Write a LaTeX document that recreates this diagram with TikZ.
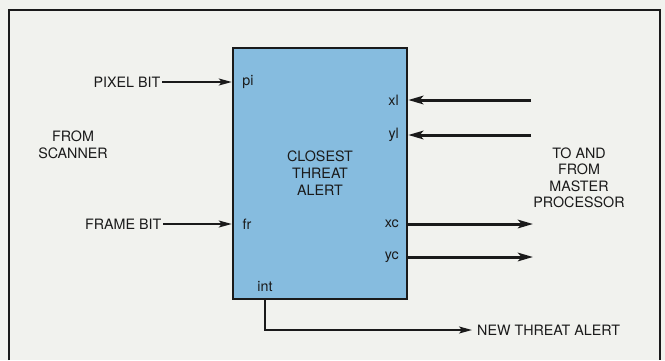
\documentclass[tikz,border=0pt]{standalone}
\usepackage{fontspec}
\setmainfont{TeX Gyre Heros}
\usetikzlibrary{arrows.meta,positioning}
\definecolor{paper}{HTML}{F1F2EE}
\definecolor{chip}{HTML}{86BCDF}
\definecolor{ink}{HTML}{1A1A1A}

\begin{document}
\begin{tikzpicture}[x=1pt,y=-1pt,font=\fontsize{14.3}{16.5}\selectfont,
  pin/.style={inner sep=0pt,text=ink},
  lbl/.style={inner sep=1.5pt,text=ink},
  sig/.style={ink,line width=1.8pt,-{Stealth[length=13pt,width=7pt,inset=3pt]}},
  bus/.style={ink,line width=3pt,-{Stealth[length=15pt,width=8.5pt,inset=3.5pt]}}]
  \useasboundingbox[fill=paper] (0,0) rectangle (665,360);

  % Frame (open at the bottom)
  \draw[ink,line width=1.5pt] (9,360) -- (9,10) -- (660,10) -- (660,360);

  % Closest threat alert chip
  \node[draw=ink,fill=chip,line width=2.5pt,minimum width=174pt,minimum height=251pt,inner sep=0pt] (cta) at (320,173.5) {};
  \node[lbl,align=center,font=\fontsize{14.3}{17}\selectfont] (title) at (320,173) {CLOSEST\\THREAT\\ALERT};

  % Pins
  \node[pin] (pi) at (248,82) {pi};
  \node[pin] (fr) at (247,224) {fr};
  \node[pin,anchor=east] (xl) at (399,100) {xl};
  \node[pin,anchor=east] (yl) at (399,135) {yl};
  \node[pin,anchor=east] (xc) at (399,224) {xc};
  \node[pin,anchor=east] (yc) at (399,257) {yc};
  \node[pin] (int) at (265,286) {int};

  % From scanner
  \node[lbl,anchor=east] (pixel) at (162,82) {PIXEL BIT};
  \node[lbl,anchor=east] (frame) at (163,224) {FRAME BIT};
  \node[lbl,align=center] (scanner) at (73,145) {FROM\\SCANNER};
  \draw[sig] (pixel) -- (pixel -| cta.west);
  \draw[sig] (frame) -- (frame -| cta.west);

  % To and from master processor
  \node[lbl,align=center] (master) at (579,178) {TO AND\\FROM\\MASTER\\PROCESSOR};
  \coordinate (xlsrc) at (531,100);
  \coordinate (ylsrc) at (531,135);
  \coordinate (xcdst) at (533,224);
  \coordinate (ycdst) at (533,257);
  \draw[bus] (xlsrc) -- (xlsrc -| cta.east);
  \draw[bus] (ylsrc) -- (ylsrc -| cta.east);
  \draw[bus] (cta.east |- xcdst) -- (xcdst);
  \draw[bus] (cta.east |- ycdst) -- (ycdst);

  % Interrupt out
  \node[lbl,anchor=west,inner sep=0pt] (alert) at (477,330) {NEW THREAT ALERT};
  \draw[sig] ([xshift=33pt]cta.south west) |- ([xshift=-5pt]alert.west);
\end{tikzpicture}
\end{document}
